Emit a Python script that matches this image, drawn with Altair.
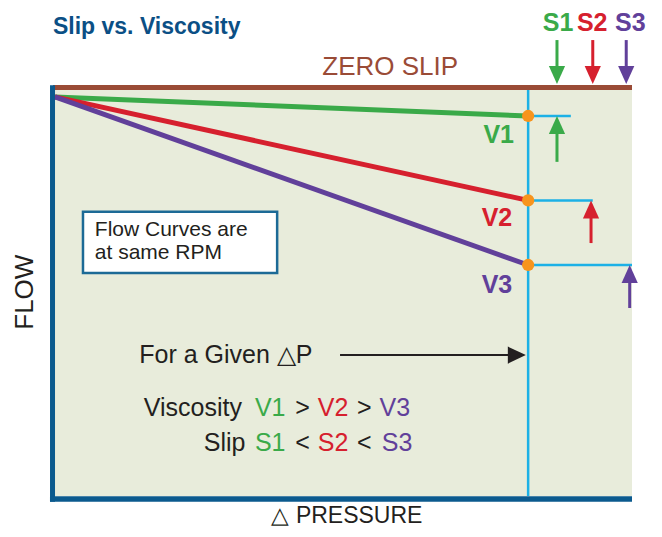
import altair as alt
import pandas as pd

# ---------------- data (chart units: ΔPressure 0-100 on x, Flow 0-100 on y) ----------------
viscosity = ["V1", "V2", "V3"]
slip = ["S1", "S2", "S3"]
series_colors = ["#3aaa49", "#d6202e", "#61409a"]

flow_at_zero_dp = 98.3            # all curves start together at zero pressure
given_dp = 82.0                    # the given ΔP
flow_at_dp = [93.6, 72.8, 56.9]    # flow of V1, V2, V3 at the given ΔP
zero_slip_flow = 100.6

ref_end = [89.4, 93.2, 100.0]      # end of cyan reference lines
slip_up_x = [87.0, 92.9, 99.6]     # slip arrows below zero slip (pointing up)
slip_up_tail = [82.3, 62.3, 46.3]
slip_down_x = [87.0, 93.2, 99.0]   # slip arrows above zero-slip line (pointing down)
slip_down_tail = 112.3
slip_down_tip = 101.5

v_label_x = [76.9, 76.6, 76.6]
v_label_y = [88.8, 68.5, 52.0]
s_label_x = [87.2, 93.1, 99.7]
s_label_y = 116.6

PX_X = 5.77   # pixels per unit
PX_Y = 4.06

FONT = "Liberation Sans"
BLUE = "#0b5a8e"
CYAN = "#1cb1e6"
BROWN = "#9a4b36"
ORANGE = "#f7941d"
INK = "#231f20"

xs = alt.Scale(domain=[0, 100], nice=False, zero=False)
ys = alt.Scale(domain=[0, 100], nice=False, zero=False)


def X(f="x"):
    return alt.X(f"{f}:Q", scale=xs, axis=None)


def Y(f="y"):
    return alt.Y(f"{f}:Q", scale=ys, axis=None)


layers = []

# zero slip line
zs = pd.DataFrame({"x": [-0.35], "x2": [100.0], "y": [zero_slip_flow]})
layers.append(alt.Chart(zs).mark_rule(color=BROWN, strokeWidth=5).encode(
    x=X(), x2="x2:Q", y=Y()))

# cyan given-ΔP vertical
cv = pd.DataFrame({"x": [given_dp], "y": [0.0], "y2": [100.0]})
layers.append(alt.Chart(cv).mark_rule(color=CYAN, strokeWidth=2.5).encode(
    x=X(), y=Y(), y2="y2:Q"))

# cyan reference horizontals
ch = pd.DataFrame({"x": [given_dp] * 3, "x2": ref_end, "y": flow_at_dp})
layers.append(alt.Chart(ch).mark_rule(color=CYAN, strokeWidth=2.5).encode(
    x=X(), x2="x2:Q", y=Y()))

# flow curves
rows = []
for v, c, f in zip(viscosity, series_colors, flow_at_dp):
    rows.append({"series": v, "color": c, "x": 0.0, "y": flow_at_zero_dp})
    rows.append({"series": v, "color": c, "x": given_dp, "y": f})
curves = pd.DataFrame(rows)
layers.append(alt.Chart(curves).mark_line(strokeWidth=5).encode(
    x=X(), y=Y(), detail="series:N",
    color=alt.Color("color:N", scale=None)))

# orange dots
dots = pd.DataFrame({"x": [given_dp] * 3, "y": flow_at_dp})
layers.append(alt.Chart(dots).mark_circle(size=150, opacity=1, color=ORANGE).encode(
    x=X(), y=Y()))

HEAD_SIZE = 324  # 18 px long head
head_half = 9 / PX_Y

# up arrows (slip) below reference lines
up = pd.DataFrame({"x": slip_up_x, "tip": flow_at_dp, "tail": slip_up_tail,
                   "color": series_colors})
up["shaft_end"] = up["tip"] - head_half
layers.append(alt.Chart(up).mark_rule(strokeWidth=3).encode(
    x=X(), y=Y("tail"), y2="shaft_end:Q", color=alt.Color("color:N", scale=None)))
layers.append(alt.Chart(up).mark_point(shape="M0,0L-0.9,2L0.9,2Z", filled=True,
                                       size=HEAD_SIZE, opacity=1, strokeWidth=0).encode(
    x=X(), y=Y("tip"), color=alt.Color("color:N", scale=None)))

# down arrows above zero slip
dn = pd.DataFrame({"x": slip_down_x, "tip": [slip_down_tip] * 3,
                   "tail": [slip_down_tail] * 3, "color": series_colors})
dn["shaft_end"] = dn["tip"] + head_half
layers.append(alt.Chart(dn).mark_rule(strokeWidth=3).encode(
    x=X(), y=Y("tail"), y2="shaft_end:Q", color=alt.Color("color:N", scale=None)))
layers.append(alt.Chart(dn).mark_point(shape="M0,0L-0.9,-2L0.9,-2Z", filled=True,
                                       size=HEAD_SIZE, opacity=1, strokeWidth=0).encode(
    x=X(), y=Y("tip"), color=alt.Color("color:N", scale=None)))

# axes (thick blue)
ax_left = pd.DataFrame({"x": [-0.43], "y": [-1.4], "y2": [101.2]})
layers.append(alt.Chart(ax_left).mark_rule(color=BLUE, strokeWidth=5).encode(
    x=X(), y=Y(), y2="y2:Q"))
ax_bot = pd.DataFrame({"x": [-0.87], "x2": [100.0], "y": [-0.74]})
layers.append(alt.Chart(ax_bot).mark_rule(color=BLUE, strokeWidth=5.5).encode(
    x=X(), x2="x2:Q", y=Y()))

# note box
box = pd.DataFrame({"x": [4.85], "x2": [38.5], "y": [70.0], "y2": [54.9]})
layers.append(alt.Chart(box).mark_rect(fill="white", stroke="#1c6a96", strokeWidth=2.5).encode(
    x=X(), x2="x2:Q", y=Y(), y2="y2:Q"))

# black "given ΔP" arrow
arr = pd.DataFrame({"x": [49.4], "x2": [given_dp - 9 / PX_X], "y": [34.7],
                    "tip": [given_dp - 0.4]})
layers.append(alt.Chart(arr).mark_rule(color=INK, strokeWidth=2).encode(
    x=X(), x2="x2:Q", y=Y()))
layers.append(alt.Chart(arr).mark_point(shape="M0,0L-2,-0.95L-2,0.95Z", filled=True,
                                        size=HEAD_SIZE, opacity=1, strokeWidth=0,
                                        color=INK).encode(x=X("tip"), y=Y()))


def texts(df, size, bold=False, align="center", angle=0):
    kw = dict(font=FONT, fontSize=size, align=align, baseline="middle",
              fontWeight="bold" if bold else "normal")
    if angle:
        kw["angle"] = angle
    return alt.Chart(df).mark_text(**kw).encode(
        x=X(), y=Y(), text="text:N", color=alt.Color("color:N", scale=None))


# title
layers.append(texts(pd.DataFrame({"text": ["Slip vs. Viscosity"], "x": [-0.35],
                                  "y": [115.5], "color": ["#0b4f85"]}), 23, bold=True,
                    align="left"))
# zero slip label
layers.append(texts(pd.DataFrame({"text": ["ZERO SLIP"], "x": [58.1], "y": [105.7],
                                  "color": [BROWN]}), 26))
# S labels
layers.append(texts(pd.DataFrame({"text": slip, "x": s_label_x, "y": [s_label_y] * 3,
                                  "color": series_colors}), 25, bold=True))
# V labels
layers.append(texts(pd.DataFrame({"text": viscosity, "x": v_label_x, "y": v_label_y,
                                  "color": series_colors}), 25, bold=True))
# note text
layers.append(texts(pd.DataFrame({"text": ["Flow Curves are", "at same RPM"],
                                  "x": [6.9, 6.9], "y": [65.5, 59.9],
                                  "color": [INK, INK]}), 21, align="left"))
# given ΔP text
layers.append(texts(pd.DataFrame({"text": ["For a Given \u25b3P"], "x": [14.6], "y": [34.7],
                                  "color": [INK]}), 25, align="left"))
# comparison lines
cmp_rows = pd.DataFrame({
    "text": ["Viscosity", "V1", ">", "V2", ">", "V3",
             "Slip", "S1", "<", "S2", "<", "S3"],
    "x": [23.9, 37.3, 42.9, 48.2, 53.6, 58.9,
          29.4, 37.3, 42.9, 48.2, 53.6, 59.3],
    "y": [21.7] * 6 + [13.1] * 6,
    "color": [INK, series_colors[0], INK, series_colors[1], INK, series_colors[2]] * 2,
})
layers.append(texts(cmp_rows, 25))
# axis titles
layers.append(texts(pd.DataFrame({"text": ["FLOW"], "x": [-5.2], "y": [50.2],
                                  "color": [INK]}), 26, angle=270))
layers.append(texts(pd.DataFrame({"text": ["\u25b3 PRESSURE"], "x": [50.6], "y": [-4.9],
                                  "color": [INK]}), 23))

chart = alt.layer(*layers).properties(
    width=577, height=406,
    autosize=alt.AutoSizeParams(type="none"),
    padding={"left": 47, "top": 82, "right": 22, "bottom": 33},
).configure_view(fill="#e8ecdb", stroke=None)

chart.save("out.html", embed_options={"renderer": "svg", "actions": False})
